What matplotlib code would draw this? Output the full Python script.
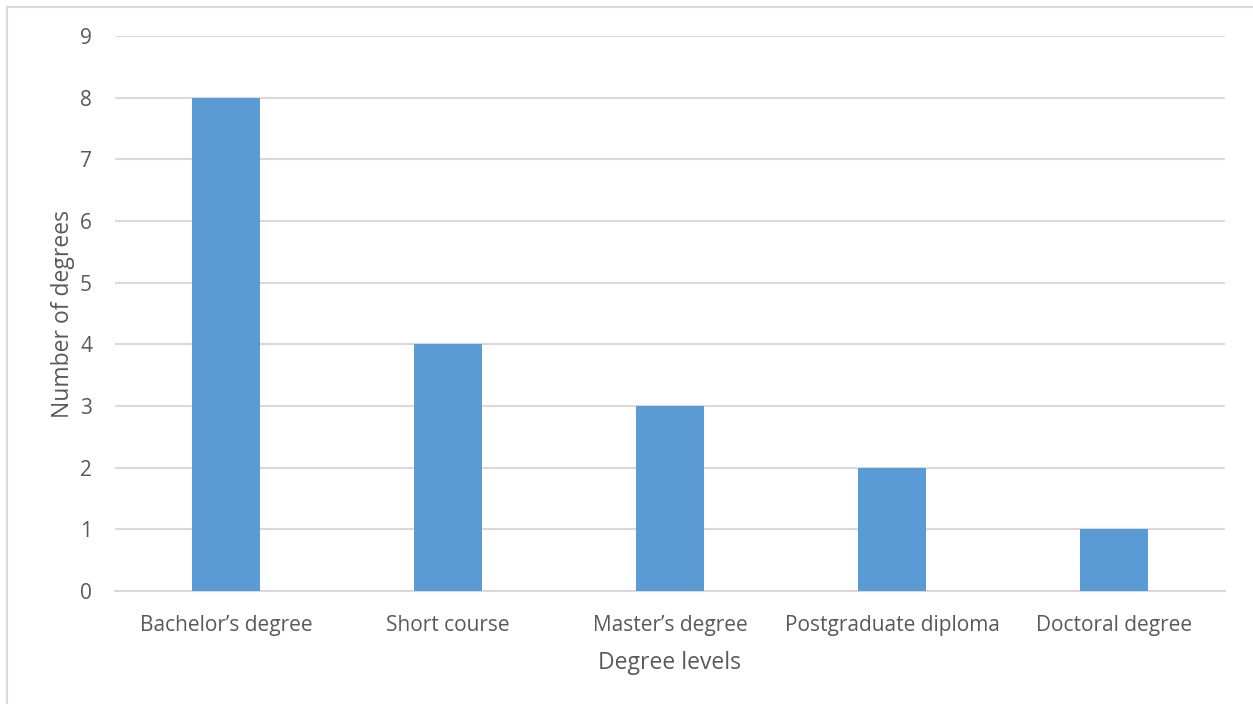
import matplotlib.pyplot as plt
from matplotlib.patches import Rectangle
import numpy as np

plt.rcParams['font.family'] = ['Open Sans', 'DejaVu Sans']

# ── Données ──────────────────────────────────────────────────
categories = ["Bachelor’s degree", "Short course", "Master’s degree",
              "Postgraduate diploma", "Doctoral degree"]
counts = [8, 4, 3, 2, 1]
yticks = list(range(0, 10))

TXT = "#595959"
GRID = "#D9D9D9"
BAR = "#5B9BD5"

fig = plt.figure(figsize=(12.53, 7.04), dpi=100)
ax = fig.add_axes([115 / 1253, 1 - 591 / 704, 1110 / 1253, 555 / 704])

x = np.arange(len(categories))
ax.bar(x, counts, width=0.31, color=BAR, zorder=3)

ax.set_xlim(-0.5, len(categories) - 0.5)
ax.set_ylim(0, 9)
ax.set_yticks(yticks)
ax.set_xticks(x)
ax.set_xticklabels(categories)
ax.grid(True, axis="y", color=GRID, lw=1.5, zorder=0)
ax.tick_params(axis="both", length=0, labelsize=15, colors=TXT)
ax.tick_params(axis="x", pad=17.5)
ax.tick_params(axis="y", pad=16.5)
for s in ["top", "right", "left"]:
    ax.spines[s].set_visible(False)
ax.spines["bottom"].set_color(GRID)
ax.spines["bottom"].set_linewidth(1.5)

ax.set_xlabel("Degree levels", fontsize=16.5, color=TXT, labelpad=10.5)
ax.set_ylabel("Number of degrees", fontsize=16.5, color=TXT, labelpad=4)

# cadre du graphique (coupé à droite et en bas)
fig.patches.append(Rectangle((7 / 1253, -0.1), 1.2, 1 - 7 / 704 + 0.1,
                             transform=fig.transFigure, fill=False,
                             edgecolor=GRID, lw=1.5))

fig.savefig("out.png", dpi=100)
